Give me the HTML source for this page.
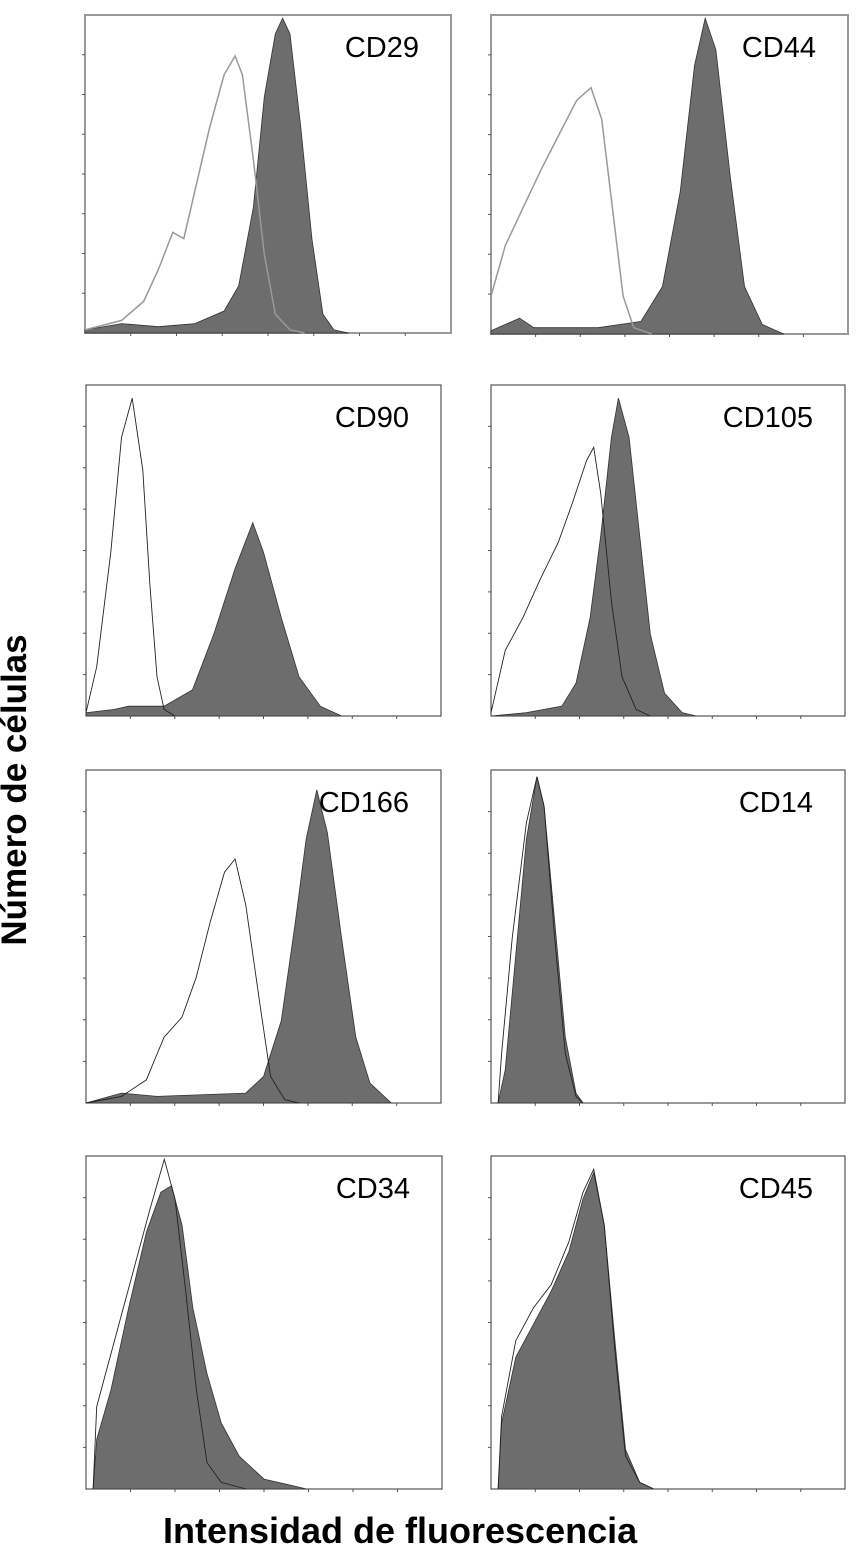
<!DOCTYPE html>
<html><head><meta charset="utf-8">
<style>
html,body{margin:0;padding:0;background:#fff;}
body{width:858px;height:1553px;position:relative;overflow:hidden;font-family:"Liberation Sans",sans-serif;}
#ylab{position:absolute;left:-185px;top:770px;width:400px;text-align:center;transform:rotate(-90deg);font-weight:bold;font-size:35px;line-height:40px;}
#xlab{position:absolute;left:163px;top:1511px;font-weight:bold;font-size:36px;line-height:40px;}
</style></head>
<body>
<svg id="chart" width="858" height="1553" style="position:absolute;left:0;top:0"></svg>
<div id="ylab">Número de células</div>
<div id="xlab">Intensidad de fluorescencia</div>
<script>
const markers = ["CD29","CD44","CD90","CD105","CD166","CD14","CD34","CD45"];
const cd29Filled = [[0,0.01],[0.1,0.03],[0.2,0.02],[0.3,0.03],[0.38,0.07],[0.42,0.15],[0.46,0.4],[0.49,0.75],[0.52,0.95],[0.54,1.0],[0.56,0.95],[0.59,0.65],[0.62,0.3],[0.65,0.06],[0.68,0.01],[0.72,0]];
const cd29Open = [[0,0.01],[0.1,0.04],[0.16,0.1],[0.2,0.2],[0.24,0.32],[0.27,0.3],[0.3,0.45],[0.34,0.65],[0.38,0.82],[0.41,0.88],[0.43,0.82],[0.46,0.55],[0.49,0.25],[0.52,0.06],[0.56,0.01],[0.6,0]];
const cd44Filled = [[0,0.01],[0.08,0.05],[0.12,0.02],[0.3,0.02],[0.42,0.04],[0.48,0.15],[0.53,0.45],[0.57,0.85],[0.6,1.0],[0.63,0.9],[0.67,0.5],[0.71,0.15],[0.76,0.03],[0.82,0]];
const cd44Open = [[0,0.12],[0.04,0.28],[0.09,0.4],[0.14,0.52],[0.19,0.63],[0.24,0.74],[0.28,0.78],[0.31,0.68],[0.34,0.4],[0.37,0.12],[0.4,0.02],[0.45,0]];
const cd90Filled = [[0,0.01],[0.08,0.02],[0.12,0.03],[0.22,0.03],[0.3,0.08],[0.36,0.25],[0.42,0.45],[0.47,0.59],[0.5,0.5],[0.55,0.3],[0.6,0.12],[0.66,0.03],[0.72,0]];
const cd90Open = [[0,0.01],[0.03,0.15],[0.07,0.5],[0.1,0.85],[0.13,0.97],[0.16,0.75],[0.18,0.4],[0.2,0.12],[0.22,0.02],[0.25,0]];
const cd105Filled = [[0,0],[0.1,0.01],[0.2,0.03],[0.24,0.1],[0.28,0.3],[0.31,0.55],[0.34,0.85],[0.36,0.97],[0.39,0.85],[0.42,0.55],[0.45,0.25],[0.49,0.07],[0.54,0.01],[0.58,0]];
const cd105Open = [[0,0.01],[0.04,0.2],[0.09,0.3],[0.14,0.42],[0.19,0.53],[0.23,0.65],[0.27,0.78],[0.29,0.82],[0.31,0.68],[0.34,0.35],[0.37,0.12],[0.41,0.02],[0.45,0]];
const cd166Filled = [[0,0],[0.1,0.03],[0.2,0.02],[0.45,0.03],[0.5,0.08],[0.55,0.25],[0.59,0.55],[0.62,0.8],[0.65,0.95],[0.68,0.82],[0.72,0.5],[0.76,0.2],[0.8,0.06],[0.86,0]];
const cd166Open = [[0,0],[0.1,0.02],[0.17,0.07],[0.22,0.2],[0.27,0.26],[0.31,0.38],[0.35,0.55],[0.39,0.7],[0.42,0.74],[0.45,0.6],[0.49,0.3],[0.52,0.08],[0.56,0.01],[0.6,0]];
const cd14Filled = [[0.02,0],[0.04,0.1],[0.07,0.45],[0.1,0.8],[0.13,0.99],[0.15,0.9],[0.18,0.55],[0.21,0.2],[0.24,0.03],[0.26,0]];
const cd14Open = [[0.02,0],[0.03,0.15],[0.06,0.5],[0.1,0.85],[0.13,0.99],[0.15,0.9],[0.18,0.5],[0.21,0.15],[0.24,0.02],[0.26,0]];
const cd34Filled = [[0.02,0],[0.03,0.15],[0.07,0.3],[0.12,0.55],[0.17,0.78],[0.21,0.9],[0.24,0.92],[0.27,0.8],[0.3,0.55],[0.34,0.35],[0.38,0.2],[0.43,0.1],[0.5,0.03],[0.58,0.01],[0.62,0]];
const cd34Open = [[0.02,0],[0.03,0.25],[0.08,0.45],[0.13,0.65],[0.18,0.85],[0.22,1.0],[0.25,0.88],[0.28,0.6],[0.31,0.3],[0.34,0.08],[0.38,0.02],[0.45,0]];
const cd45Filled = [[0.02,0],[0.03,0.2],[0.07,0.4],[0.12,0.5],[0.17,0.6],[0.22,0.72],[0.26,0.88],[0.29,0.96],[0.32,0.8],[0.35,0.45],[0.38,0.12],[0.42,0.02],[0.46,0]];
const cd45Open = [[0.02,0],[0.03,0.22],[0.07,0.45],[0.12,0.55],[0.17,0.62],[0.22,0.75],[0.26,0.9],[0.29,0.97],[0.32,0.8],[0.35,0.42],[0.38,0.1],[0.42,0.02],[0.46,0]];
const filledSeries = [cd29Filled,cd44Filled,cd90Filled,cd105Filled,cd166Filled,cd14Filled,cd34Filled,cd45Filled];
const openSeries = [cd29Open,cd44Open,cd90Open,cd105Open,cd166Open,cd14Open,cd34Open,cd45Open];

const boxes=[[85,15,366,318],[491,15,357,319],[86,385,355,331],[491,385,354,331],[86,770,355,333],[491,770,354,333],[86,1156,356,333],[491,1156,354,333]];
const NS="http://www.w3.org/2000/svg";
const svg=document.getElementById('chart');
function mk(t,a){const e=document.createElementNS(NS,t);for(const k in a)e.setAttribute(k,a[k]);return e;}
boxes.forEach((b,i)=>{
  const [x0,y0,w,h]=b;
  const g=mk('g',{});
  
  
  svg.appendChild(g);
  const sx=v=>x0+v*w, sy=v=>y0+h-v*h*0.99;
  const top=i<2;
  const frame=mk('rect',{x:x0,y:y0,width:w,height:h,fill:'none',stroke:top?'#999':'#333','stroke-width':top?2:1});
  
  
  g.appendChild(frame);
  for(let k=1;k<8;k++){
    const t1=mk('line',{x1:sx(k/8),x2:sx(k/8),y1:y0+h,y2:y0+h+3,stroke:'#555'});
    
    
    g.appendChild(t1);
    const t2=mk('line',{x1:x0-3,x2:x0,y1:y0+k*h/8,y2:y0+k*h/8,stroke:'#555'});
    
    
    g.appendChild(t2);
  }
  const f=filledSeries[i];
  let d='M'+sx(f[0][0])+','+(y0+h);
  f.forEach(p=>d+=' L'+sx(p[0]).toFixed(1)+','+sy(p[1]).toFixed(1));
  d+=' L'+sx(f[f.length-1][0])+','+(y0+h)+'Z';
  const fp=mk('path',{d:d,fill:'#6d6d6d',stroke:'#333','stroke-width':0.8});
  
  
  g.appendChild(fp);
  const o=openSeries[i];
  let d2='';
  o.forEach((p,j)=>d2+=(j?' L':'M')+sx(p[0]).toFixed(1)+','+sy(p[1]).toFixed(1));
  const op=mk('path',{d:d2,fill:'none',stroke:top?'#999':'#222','stroke-width':top?1.5:0.9});
  
  
  g.appendChild(op);
  const tx=mk('text',{x:x0+w-32,y:y0+42,'text-anchor':'end','font-size':29,'font-family':'Liberation Sans, sans-serif',fill:'#000'});
  tx.textContent=markers[i];
  
  
  g.appendChild(tx);
});
</script>
</body></html>
